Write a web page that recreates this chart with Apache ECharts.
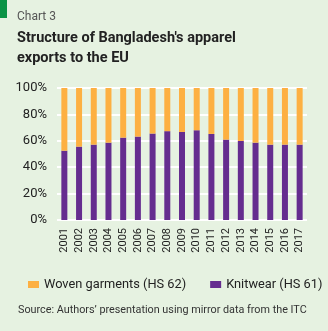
<!DOCTYPE html>
<html><head><meta charset="utf-8">
<script src="https://cdn.jsdelivr.net/npm/echarts@6/dist/echarts.min.js"></script>
<style>html,body{margin:0;padding:0;background:#e6f2e1;}#c{width:328px;height:331px;}</style>
</head><body><div id="c"></div>
<script>
const years = ['2001','2002','2003','2004','2005','2006','2007','2008','2009','2010','2011','2012','2013','2014','2015','2016','2017'];
const knitwear = [52.5,55.6,57.1,58.6,62.4,63.2,65.5,67.3,66.7,68.0,65.2,60.9,59.9,58.6,57.1,57.1,57.1];
const woven = [47.5,44.4,42.9,41.4,37.6,36.8,34.5,32.7,33.3,32.0,34.8,39.1,40.1,41.4,42.9,42.9,42.9];
const yTicks = [0,20,40,60,80,100];

const chart = echarts.init(document.getElementById('c'), null, {renderer:'canvas'});
const font = 'Roboto';
chart.setOption({
  backgroundColor:'#e6f2e1',
  animation:false,
  title:[
    {text:'Chart 3', left:12, top:6, textStyle:{fontFamily:font, fontSize:12, fontWeight:'normal', color:'#555'}},
    {text:"Structure of Bangladesh's apparel\nexports to the EU", left:12, top:23, textStyle:{fontFamily:font, fontSize:14.5, fontWeight:'bold', color:'#222', lineHeight:20}}
  ],
  graphic:[
    {type:'rect', left:0, top:0, shape:{width:7, height:18}, style:{fill:'#0a9345'}},
    {type:'text', left:18, top:305, style:{text:'Source: Authors\u2019 presentation using mirror data from the ITC', font:'10.8px Roboto', fill:'#333'}}
  ],
  legend:{
    data:['Woven garments (HS 62)','Knitwear (HS 61)'],
    left:23, top:273, itemWidth:11, itemHeight:7, itemGap:24, icon:'rect',
    textStyle:{fontFamily:font, fontSize:12.8, color:'#222'}
  },
  grid:{left:57, right:21, top:88, bottom:111},
  xAxis:{
    type:'category', data:years,
    axisLine:{show:false}, axisTick:{show:false},
    axisLabel:{rotate:90, interval:0, fontFamily:font, fontSize:11, color:'#222', margin:8}
  },
  yAxis:{
    type:'value', min:0, max:100, interval:20,
    axisLabel:{formatter: v => yTicks.includes(v) ? v+'%' : '', fontFamily:font, fontSize:13, color:'#222', margin:10},
    splitLine:{lineStyle:{color:'#ffffff', width:2}},
    axisLine:{show:false}, axisTick:{show:false}
  },
  series:[
    {name:'Knitwear (HS 61)', type:'bar', stack:'a', data:knitwear, barWidth:6, itemStyle:{color:'#652d8f'}},
    {name:'Woven garments (HS 62)', type:'bar', stack:'a', data:woven, barWidth:6, itemStyle:{color:'#fdb042'}}
  ]
});
</script></body></html>
